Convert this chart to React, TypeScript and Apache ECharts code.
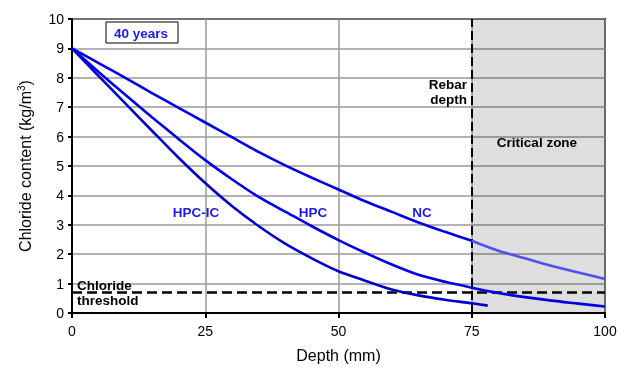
import React, { useEffect, useRef } from "react";
import * as echarts from "echarts";

const depth = [0, 5, 10, 15, 20, 25, 30, 35, 40, 45, 50, 55, 60, 65, 70, 75, 80, 85, 90, 95, 100];
const ncValues = [9.0, 8.5, 8.0, 7.48, 6.98, 6.48, 5.98, 5.48, 5.02, 4.6, 4.2, 3.8, 3.44, 3.08, 2.76, 2.46, 2.12, 1.86, 1.6, 1.38, 1.16];
const hpcValues = [9.0, 8.2, 7.42, 6.66, 5.92, 5.2, 4.55, 3.95, 3.45, 2.95, 2.48, 2.05, 1.65, 1.3, 1.06, 0.86, 0.68, 0.54, 0.42, 0.32, 0.22];
const hpcIcDepth = [0, 5, 10, 15, 20, 25, 30, 35, 40, 45, 50, 55, 60, 65, 70, 75, 78];
const hpcIcValues = [9.0, 8.06, 7.13, 6.2, 5.28, 4.42, 3.64, 2.96, 2.36, 1.86, 1.42, 1.1, 0.8, 0.6, 0.45, 0.33, 0.25];
const xTicks = [0, 25, 50, 75, 100];
const thresholdLevel = 0.7;
const rebarDepth = 75;
const criticalZone = [75, 100];

const FONT = "'Liberation Sans', Arial, sans-serif";

export default function App() {
  const ref = useRef<HTMLDivElement>(null);
  useEffect(() => {
    if (!ref.current) return;
    const chart = echarts.init(ref.current, undefined, { renderer: "svg" });
    const pairs = (xs: number[], ys: number[]) => xs.map((x, i) => [x, ys[i]]);
    const nc = pairs(depth, ncValues);
    const ncInside = nc.filter((p) => p[0] <= rebarDepth);
    const ncCritical = nc.filter((p) => p[0] >= rebarDepth);
    const blue = "#0000e6";
    const lineBase = { type: "line", showSymbol: false, smooth: 0.3, z: 5 };
    const annot = `bold 13.5px ${FONT}`;
    chart.setOption({
      animation: false,
      textStyle: { fontFamily: FONT },
      grid: {
        left: 72,
        right: 25,
        top: 19,
        bottom: 56,
        outerBoundsMode: "none",
        containLabel: false,
        show: true,
        borderColor: "#000",
        borderWidth: 2,
        backgroundColor: "#fff",
      },
      xAxis: {
        type: "value",
        min: xTicks[0],
        max: xTicks[xTicks.length - 1],
        interval: 25,
        name: "Depth (mm)",
        nameLocation: "middle",
        nameGap: 34,
        nameTextStyle: { fontSize: 16, color: "#000", fontFamily: FONT },
        axisLine: { lineStyle: { color: "#000", width: 2 } },
        axisTick: { show: true, length: 5, lineStyle: { color: "#000", width: 2 } },
        axisLabel: { fontSize: 14, color: "#000", margin: 11, fontFamily: FONT },
        splitLine: { show: true, lineStyle: { color: "#9a9a9a", width: 1.5 } },
      },
      yAxis: {
        type: "value",
        min: 0,
        max: 10,
        interval: 1,
        name: "{a|Chloride content (kg/m}{s|3}{a|)}",
        nameLocation: "middle",
        nameGap: 38,
        nameTextStyle: {
          rich: {
            a: { fontSize: 16, color: "#000", fontFamily: FONT },
            s: { fontSize: 10, color: "#000", fontFamily: FONT, verticalAlign: "top", padding: [0, 0, 8, 0] },
          },
        },
        axisLine: { lineStyle: { color: "#000", width: 2 } },
        axisTick: { show: true, length: 4, lineStyle: { color: "#000", width: 2 } },
        axisLabel: { fontSize: 14, color: "#000", margin: 8, fontFamily: FONT },
        splitLine: { show: true, lineStyle: { color: "#9a9a9a", width: 1.5 } },
      },
      series: [
        {
          type: "line",
          data: [],
          silent: true,
          markArea: {
            silent: true,
            itemStyle: { color: "rgba(0,0,0,0.13)" },
            data: [[{ xAxis: criticalZone[0] }, { xAxis: criticalZone[1] }]],
          },
          markLine: {
            silent: true,
            symbol: "none",
            label: { show: false },
            data: [
              { xAxis: rebarDepth, lineStyle: { color: "#000", width: 2, type: [9, 4] } },
              { yAxis: thresholdLevel, lineStyle: { color: "#000", width: 2.5, type: [10, 5] } },
            ],
          },
          z: 6,
        },
        { ...lineBase, name: "NC", data: ncInside, lineStyle: { color: blue, width: 2.6 } },
        { ...lineBase, name: "NC critical", data: ncCritical, lineStyle: { color: "#4f4ff2", width: 2.6 } },
        { ...lineBase, name: "HPC", data: pairs(depth, hpcValues), lineStyle: { color: blue, width: 2.6 } },
        { ...lineBase, name: "HPC-IC", data: pairs(hpcIcDepth, hpcIcValues), lineStyle: { color: "#0000c8", width: 2.6 } },
      ],
      graphic: [
        {
          type: "rect",
          shape: { x: 106, y: 22, width: 72, height: 21 },
          style: { fill: "#fff", stroke: "#000", lineWidth: 1 },
          z: 10,
        },
        {
          type: "text",
          x: 141,
          y: 33,
          style: { text: "40 years", fill: "#1a1aee", font: annot, align: "center", verticalAlign: "middle" },
          z: 11,
        },
        {
          type: "text",
          x: 467,
          y: 92,
          style: { text: "Rebar\ndepth", fill: "#000", font: annot, align: "right", verticalAlign: "middle", lineHeight: 15 },
          z: 11,
        },
        {
          type: "text",
          x: 537,
          y: 142,
          style: { text: "Critical zone", fill: "#000", font: annot, align: "center", verticalAlign: "middle" },
          z: 11,
        },
        {
          type: "text",
          x: 196,
          y: 212,
          style: { text: "HPC-IC", fill: "#1a1aee", font: annot, align: "center", verticalAlign: "middle" },
          z: 11,
        },
        {
          type: "text",
          x: 313,
          y: 212,
          style: { text: "HPC", fill: "#1a1aee", font: annot, align: "center", verticalAlign: "middle" },
          z: 11,
        },
        {
          type: "text",
          x: 422,
          y: 212,
          style: { text: "NC", fill: "#1a1aee", font: annot, align: "center", verticalAlign: "middle" },
          z: 11,
        },
        {
          type: "text",
          x: 77,
          y: 293,
          style: { text: "Chloride\nthreshold", fill: "#000", font: annot, align: "left", verticalAlign: "middle", lineHeight: 15 },
          z: 11,
        },
      ],
    });
    return () => chart.dispose();
  }, []);
  return <div ref={ref} style={{ position: "fixed", left: 0, top: 0, width: 630, height: 369 }} />;
}
